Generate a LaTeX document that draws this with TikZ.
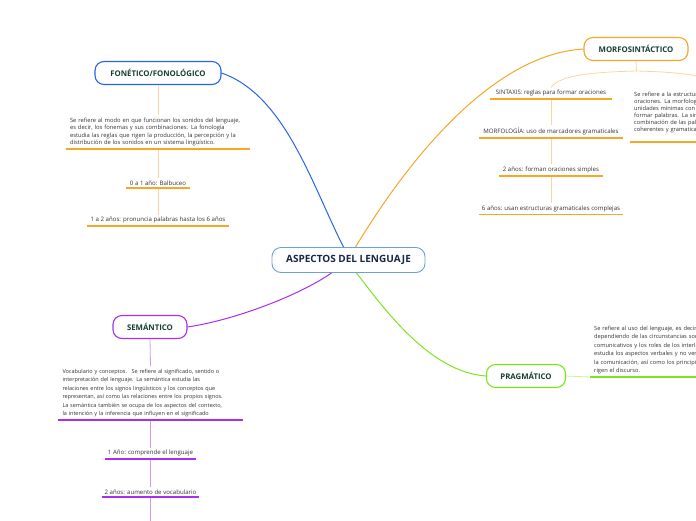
\documentclass[tikz,border=0pt]{standalone}
\usepackage{fontspec}
\setmainfont{Open Sans}
\definecolor{azul}{RGB}{40,100,230}
\definecolor{azulclaro}{RGB}{105,160,225}
\definecolor{naranja}{RGB}{247,166,40}
\definecolor{naranjaclaro}{RGB}{252,212,160}
\definecolor{morado}{RGB}{170,45,240}
\definecolor{moradoclaro}{RGB}{212,150,245}
\definecolor{verde}{RGB}{125,230,25}
\definecolor{verdeclaro}{RGB}{195,245,150}
\definecolor{verdeoscuro}{RGB}{22,62,48}
\definecolor{marino}{RGB}{22,40,72}
\definecolor{gristexto}{RGB}{50,50,50}

\begin{document}
\begin{tikzpicture}[x=1pt, y=-1pt,
  raiz/.style={rectangle, draw=azulclaro, line width=0.9pt, rounded corners=9pt,
               fill=white, minimum width=153pt, minimum height=25pt,
               font=\bfseries\fontsize{10}{12}\selectfont, text=marino},
  tema/.style={rectangle, draw=#1, line width=1.1pt, rounded corners=9pt,
               fill=white, minimum height=23pt,
               font=\bfseries\fontsize{7.8}{9}\selectfont, text=verdeoscuro},
  texto/.style={text width=#1, align=left, inner xsep=4pt, inner ysep=3pt,
                text=gristexto, font=\fontsize{5.5}{8.4}\selectfont},
  rama/.style={minimum width=#1, inner sep=2.5pt, text=gristexto,
               font=\fontsize{6.1}{7}\selectfont},
  curva/.style={draw=#1, line width=1pt},
  enlace/.style={draw=#1, line width=0.8pt},
  subrayado/.style={draw=#1, line width=1.6pt}
]
  \useasboundingbox (0,0) rectangle (696,520);
  \clip (0,0) rectangle (696,520);

  % temas
  \node[raiz] (raiz) at (348.5,260) {ASPECTOS DEL LENGUAJE};
  \node[tema=azul, minimum width=126pt] (fon) at (158,73) {FONÉTICO/FONOLÓGICO};
  \node[tema=naranja, minimum width=104pt] (morfo) at (636,49) {MORFOSINTÁCTICO};
  \node[tema=morado, minimum width=74pt] (sem) at (150,327) {SEMÁNTICO};
  \node[tema=verde, minimum width=79pt] (prag) at (526,376) {PRAGMÁTICO};

  % fonetico
  \node[texto=176pt, anchor=south, font=\fontsize{5.8}{7.4}\selectfont] (fondesc) at (158,149)
    {Se refiere al modo en que funcionan los sonidos del lenguaje,\\
     es decir, los fonemas y sus combinaciones. La fonología\\
     estudia las reglas que rigen la producción, la percepción y la\\
     distribución de los sonidos en un sistema lingüístico.};
  \node[rama=64pt, anchor=south] (fon1) at (158,188) {0 a 1 año: Balbuceo};
  \node[rama=141pt, anchor=south] (fon2) at (158,226) {1 a 2 años: pronuncia palabras hasta los 6 años};

  % morfosintactico
  \coordinate (morfob) at (636.5,71);
  \node[rama=121pt, anchor=south] (sint) at (551,99) {SINTAXIS: reglas para formar oraciones};
  \node[rama=143pt, anchor=south] (morfol) at (551,138) {MORFOLOGÍA: uso de marcadores gramaticales};
  \node[rama=104pt, anchor=south] (morfo2) at (551,176) {2 años: forman oraciones simples};
  \node[rama=144pt, anchor=south] (morfo6) at (551,214.5) {6 años: usan estructuras gramaticales complejas};
  \node[texto=176pt, anchor=south west, font=\fontsize{5.7}{7}\selectfont] (morfodesc) at (630,142)
    {Se refiere a la estructura de las palabras y de las\\
     oraciones. La morfología estudia la forma de las\\
     unidades mínimas con significado que se combinan\\
     formar palabras. La sintaxis estudia el orden y la\\
     combinación de las palabras para construir frases\\
     coherentes y gramaticalmente correctas.\\ \mbox{}};

  % semantico
  \node[texto=176pt, anchor=south] (semdesc) at (150.5,420)
    {Vocabulario y conceptos.~ Se refiere al significado, sentido o\\
     interpretación del lenguaje. La semántica estudia las\\
     relaciones entre los signos lingüísticos y los conceptos que\\
     representan, así como las relaciones entre los propios signos.\\
     La semántica también se ocupa de los aspectos del contexto,\\
     la intención y la inferencia que influyen en el significado};
  \node[rama=91pt, anchor=south] (sem1) at (150.5,459) {1 Año: comprende el lenguaje};
  \node[rama=97pt, anchor=south] (sem2) at (150.5,497) {2 años: aumento de vocabulario};
  \coordinate (semfin) at (150.5,530);

  % pragmatico
  \node[texto=176pt, anchor=south west, font=\fontsize{5.7}{8.4}\selectfont] (pragdesc) at (590,377)
    {Se refiere al uso del lenguaje, es decir, a cómo se usa\\
     dependiendo de las circunstancias sociales y los\\
     comunicativos y los roles de los interlocutores. La\\
     estudia los aspectos verbales y no verbales de\\
     la comunicación, así como los principios que\\
     rigen el discurso.};

  % curvas desde la raiz
  \draw[curva=azul] ([xshift=-5pt]raiz.north) .. controls (312,185) and (285,95) .. (fon.east);
  \draw[curva=naranja] ([xshift=7pt]raiz.north) .. controls (390,190) and (480,55) .. (morfo.west);
  \draw[curva=morado] ([xshift=-17pt]raiz.south) .. controls (300,295) and (235,320) .. (sem.east);
  \draw[curva=verde] ([xshift=8pt]raiz.south) .. controls (385,310) and (430,372) .. (prag.west);

  % enlaces
  \draw[enlace=naranjaclaro] (fon.south) -- (fondesc.north);
  \draw[enlace=naranjaclaro] (fondesc.south) -- (fon1.north);
  \draw[enlace=naranjaclaro] (fon1.south) -- (fon2.north);
  \draw[enlace=naranjaclaro] (morfo.south) -- (morfob);
  \draw[enlace=naranjaclaro] (morfob) .. controls (600,72) and (560,74) .. (sint.north);
  \draw[enlace=naranjaclaro] (morfob) .. controls (673,72) and (713,74) .. (morfodesc.north);
  \draw[enlace=naranjaclaro] (sint.south) -- (morfol.north);
  \draw[enlace=naranjaclaro] (morfol.south) -- (morfo2.north);
  \draw[enlace=naranjaclaro] (morfo2.south) -- (morfo6.north);
  \draw[enlace=moradoclaro] (sem.south) -- (semdesc.north);
  \draw[enlace=moradoclaro] (semdesc.south) -- (sem1.north);
  \draw[enlace=moradoclaro] (sem1.south) -- (sem2.north);
  \draw[enlace=moradoclaro] (sem2.south) -- (semfin);
  \draw[enlace=verdeclaro] (prag.east) -- (pragdesc.south west);

  % subrayados
  \foreach \n/\col in {fondesc/naranja, fon1/naranja, fon2/naranja,
                       sint/naranja, morfol/naranja, morfo2/naranja, morfo6/naranja, morfodesc/naranja,
                       semdesc/morado, sem1/morado, sem2/morado, pragdesc/verde}
    \draw[subrayado=\col] (\n.south west) -- (\n.south east);
\end{tikzpicture}
\end{document}
